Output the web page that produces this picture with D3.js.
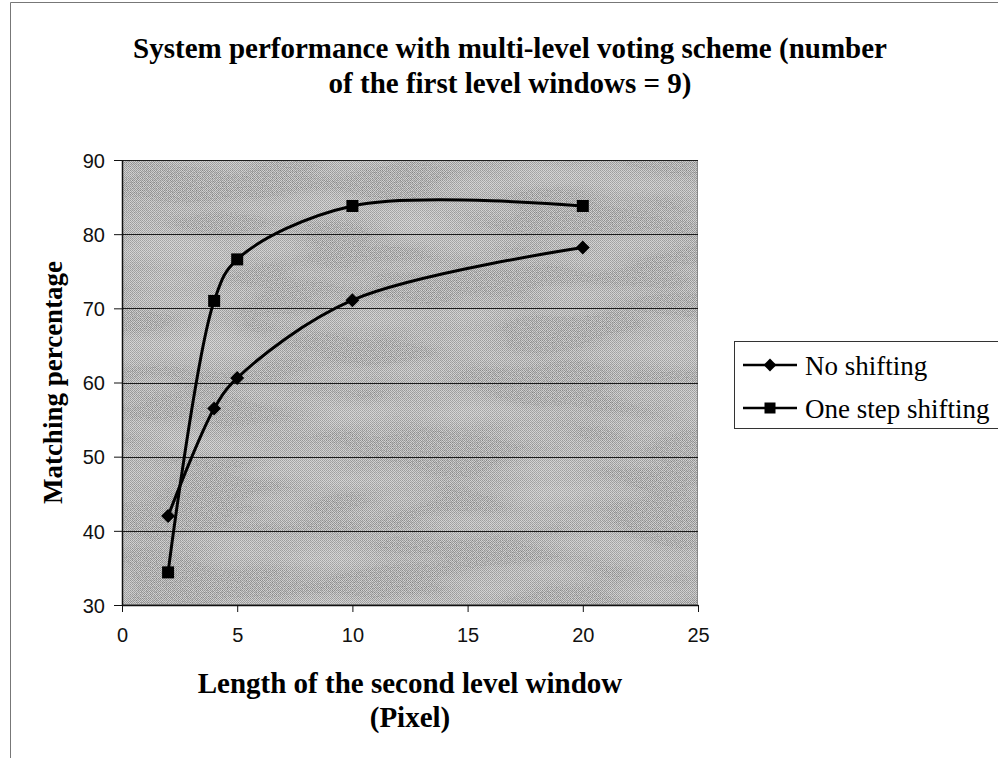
<!DOCTYPE html>
<html>
<head>
<meta charset="utf-8">
<script src="https://cdn.jsdelivr.net/npm/d3@7"></script>
<style>
  html, body { margin: 0; padding: 0; background: #fff; }
  svg { display: block; }
</style>
</head>
<body>
<svg id="chart" width="998" height="758"></svg>
<script>
// ---- data ----
const windowLengths = [2, 4, 5, 10, 20];
const noShifting = [42.0, 56.5, 60.6, 71.1, 78.2];
const oneStepShifting = [34.4, 71.0, 76.6, 83.8, 83.8];
const seriesNames = ["No shifting", "One step shifting"];
const xTicks = [0, 5, 10, 15, 20, 25];
const yTicks = [30, 40, 50, 60, 70, 80, 90];
const titleLines = ["System performance with multi-level voting scheme (number", "of the first level windows = 9)"];
const xTitleLines = ["Length of the second level window", "(Pixel)"];
const yTitle = "Matching percentage";

// ---- layout ----
const svg = d3.select("#chart");
const plot = { left: 122, right: 698, top: 160, bottom: 605 };
const x = d3.scaleLinear().domain([0, 25]).range([plot.left, plot.right]);
const y = d3.scaleLinear().domain([30, 90]).range([plot.bottom, plot.top]);

const serif = "'Liberation Serif', 'Times New Roman', serif";
const sans = "'Liberation Sans', Arial, sans-serif";

// halftone-style gray fill for the plotting area
const defs = svg.append("defs");
const dots = defs.append("pattern").attr("id", "halftone")
  .attr("patternUnits", "userSpaceOnUse").attr("width", 2).attr("height", 2);
dots.append("rect").attr("width", 2).attr("height", 2).attr("fill", "#d2d2d2");
dots.append("rect").attr("x", 0).attr("y", 0).attr("width", 1).attr("height", 1).attr("fill", "#9a9a9a");
dots.append("rect").attr("x", 1).attr("y", 1).attr("width", 1).attr("height", 1).attr("fill", "#a4a4a4");

const grain = defs.append("filter").attr("id", "grain")
  .attr("x", 0).attr("y", 0).attr("width", 1).attr("height", 1);
grain.append("feTurbulence").attr("type", "fractalNoise")
  .attr("baseFrequency", "0.8").attr("numOctaves", 1).attr("seed", 3).attr("result", "fine");
grain.append("feColorMatrix").attr("in", "fine").attr("type", "matrix")
  .attr("values", "0 0 0 0 0  0 0 0 0 0  0 0 0 0 0  0 0 0 -1.4 0.8").attr("result", "fineA");
grain.append("feTurbulence").attr("type", "fractalNoise")
  .attr("baseFrequency", "0.008 0.03").attr("numOctaves", 2).attr("seed", 8).attr("result", "blot");
grain.append("feColorMatrix").attr("in", "blot").attr("type", "matrix")
  .attr("values", "0 0 0 0 1  0 0 0 0 1  0 0 0 0 1  0 0 0 -0.9 0.5").attr("result", "blotA");
grain.append("feMerge").selectAll("feMergeNode")
  .data(["fineA", "blotA"]).join("feMergeNode").attr("in", d => d);

// chart frame
svg.append("path")
  .attr("d", "M10.5,760 V2.5 H1000")
  .attr("fill", "none").attr("stroke", "#777").attr("stroke-width", 1);

const plotW = plot.right - plot.left, plotH = plot.bottom - plot.top;
svg.append("rect")
  .attr("x", plot.left).attr("y", plot.top).attr("width", plotW).attr("height", plotH)
  .attr("fill", "url(#halftone)");
svg.append("rect")
  .attr("x", plot.left).attr("y", plot.top).attr("width", plotW).attr("height", plotH)
  .attr("fill", "#fff").attr("filter", "url(#grain)").attr("opacity", 0.35);
svg.append("rect")
  .attr("x", plot.left + 0.5).attr("y", plot.top + 0.5)
  .attr("width", plotW - 1).attr("height", plotH - 1)
  .attr("fill", "none").attr("stroke", "#888").attr("stroke-width", 1);

// horizontal gridlines
svg.append("g").selectAll("line")
  .data(yTicks.filter(v => v > 30))
  .join("line")
  .attr("x1", plot.left).attr("x2", plot.right)
  .attr("y1", d => Math.round(y(d)) + 0.5).attr("y2", d => Math.round(y(d)) + 0.5)
  .attr("stroke", "#1a1a1a").attr("stroke-width", 1);

// axes
const yAxis = svg.append("g")
  .attr("transform", `translate(${plot.left},0)`)
  .call(d3.axisLeft(y).tickValues(yTicks).tickSize(8).tickPadding(9).tickSizeOuter(0));
const xAxis = svg.append("g")
  .attr("transform", `translate(0,${plot.bottom})`)
  .call(d3.axisBottom(x).tickValues(xTicks).tickSize(7).tickPadding(16).tickSizeOuter(0));
[xAxis, yAxis].forEach(g => {
  g.selectAll("path.domain").attr("stroke", "#111").attr("stroke-width", 1.5);
  g.selectAll(".tick line").attr("stroke", "#111").attr("stroke-width", 1);
  g.selectAll(".tick text").attr("fill", "#111")
    .style("font-family", sans).style("font-size", "20px");
});
yAxis.selectAll(".tick text").attr("dy", "0.36em");

// smoothed series lines
const line = d3.line()
  .x(d => x(d[0])).y(d => y(d[1]))
  .curve(d3.curveCatmullRom.alpha(0.5));

const series = [
  { name: seriesNames[0], values: noShifting, marker: "diamond" },
  { name: seriesNames[1], values: oneStepShifting, marker: "square" }
];

function drawMarker(sel, type, size) {
  if (type === "square") {
    sel.append("rect")
      .attr("x", -size / 2).attr("y", -size / 2)
      .attr("width", size).attr("height", size)
      .attr("fill", "#000");
  } else {
    const h = size * 0.58;
    sel.append("path")
      .attr("d", `M0,${-h} L${h},0 L0,${h} L${-h},0 Z`)
      .attr("fill", "#000");
  }
}

series.forEach(s => {
  const pts = windowLengths.map((w, i) => [w, s.values[i]]);
  svg.append("path")
    .attr("d", line(pts))
    .attr("fill", "none").attr("stroke", "#000").attr("stroke-width", 3)
    .attr("stroke-linejoin", "round");
  svg.append("g").selectAll("g")
    .data(pts).join("g")
    .attr("transform", d => `translate(${x(d[0])},${y(d[1])})`)
    .each(function () { drawMarker(d3.select(this), s.marker, 12); });
});

// titles
svg.append("text")
  .attr("text-anchor", "middle")
  .style("font-family", serif).style("font-size", "29px").style("font-weight", "bold")
  .selectAll("tspan").data(titleLines).join("tspan")
  .attr("x", 510).attr("y", (d, i) => 58 + i * 35).text(d => d);

svg.append("text")
  .attr("text-anchor", "middle")
  .style("font-family", serif).style("font-size", "29px").style("font-weight", "bold")
  .selectAll("tspan").data(xTitleLines).join("tspan")
  .attr("x", (plot.left + plot.right) / 2).attr("y", (d, i) => 693 + i * 34).text(d => d);

svg.append("text")
  .attr("transform", `translate(62,${(plot.top + plot.bottom) / 2}) rotate(-90)`)
  .attr("text-anchor", "middle")
  .style("font-family", serif).style("font-size", "27px").style("font-weight", "bold")
  .text(yTitle);

// legend
const legend = svg.append("g");
legend.append("rect")
  .attr("x", 734.5).attr("y", 341.5).attr("width", 280).attr("height", 87)
  .attr("fill", "#fff").attr("stroke", "#333").attr("stroke-width", 1);
const entries = legend.selectAll("g.entry")
  .data(series).join("g").attr("class", "entry")
  .attr("transform", (d, i) => `translate(0,${375 + i * 43})`);
entries.append("line")
  .attr("x1", 743).attr("x2", 797).attr("y1", -10).attr("y2", -10)
  .attr("stroke", "#000").attr("stroke-width", 2.5);
entries.append("g")
  .attr("transform", "translate(770,-10)")
  .each(function (d) { drawMarker(d3.select(this), d.marker, 11); });
entries.append("text")
  .attr("x", 805).attr("y", 0)
  .style("font-family", serif).style("font-size", "27px").attr("fill", "#000")
  .text(d => d.name);
</script>
</body>
</html>
